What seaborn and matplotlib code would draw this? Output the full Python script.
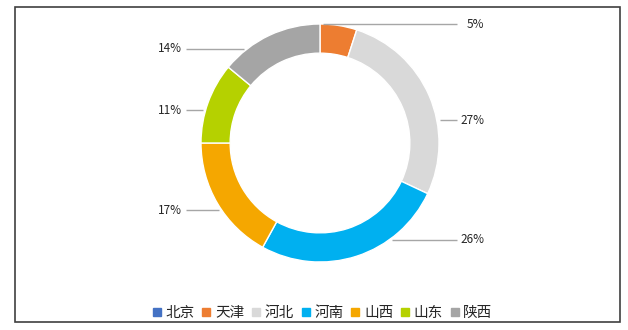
import numpy as np
import matplotlib
matplotlib.use("Agg")
import matplotlib.pyplot as plt
from matplotlib.lines import Line2D
from matplotlib.patches import Rectangle
import seaborn as sns

# Provincial shares (percent)
provinces = ["北京", "天津", "河北", "河南", "山西", "山东", "陕西"]
shares = [0, 5, 27, 26, 17, 11, 14]
colors = ["#4472C4", "#ED7D31", "#D9D9D9", "#00B0F0", "#F5A700", "#B5D100", "#A5A5A5"]

# Vertical placement (in ring radii) of each percentage label; None = not labelled
label_y = [None, 1.00, 0.193, -0.815, -0.565, 0.275, 0.79]

sns.set_theme(style="white")
plt.rcParams["font.family"] = ["Noto Sans CJK SC", "DejaVu Sans"]
palette = sns.color_palette(colors)

W, H = 628, 330
fig = plt.figure(figsize=(W / 100, H / 100), dpi=100)
ax = fig.add_axes([0, 0, 1, 1])

ax.pie(
    shares,
    colors=palette,
    startangle=90,
    counterclock=False,
    radius=1.0,
    wedgeprops=dict(width=0.245, edgecolor="white", linewidth=1.0),
)

# 1 data unit = outer ring radius (119 px); ring centred at (320, 143) px from top-left
R_px = 119.0
cx, cy = 320.0, 143.0
ax.set_aspect("auto")
ax.set_xlim(-cx / R_px, (W - cx) / R_px)
ax.set_ylim(-(H - cy) / R_px, cy / R_px)
ax.axis("off")

# Percentage labels with horizontal leader lines from the ring edge
cum = np.cumsum([0] + shares[:-1])
gap = 3 / R_px
line_end = {1: 137 / R_px, -1: 134 / R_px}   # outer end of the leader lines
text_right = {1: 164 / R_px, -1: -138 / R_px}  # right edge of label text
for share, start, ly in zip(shares, cum, label_y):
    if ly is None or share == 0:
        continue
    mid = np.deg2rad(90 - (start + share / 2) * 3.6)
    side = 1 if np.cos(mid) >= 0 else -1
    edge_x = np.sqrt(max(1 - ly ** 2, 0.0))
    x0 = side * (edge_x + gap)
    x1 = side * line_end[side]
    ax.plot([x0, x1], [ly, ly], color="#A6A6A6", lw=1.0, solid_capstyle="butt")
    ax.text(text_right[side], ly, f"{share}%", ha="right", va="center",
            fontsize=8.5, color="#262626")

# Legend
handles = [Line2D([0], [0], marker="s", linestyle="", markersize=5.5,
                  markerfacecolor=c, markeredgecolor=c) for c in palette]
fig.legend(handles, provinces, loc="center", ncol=len(provinces),
           bbox_to_anchor=(322 / W, 17 / H), frameon=False, fontsize=10.5,
           handlelength=0.7, handletextpad=0.25, columnspacing=0.45,
           labelcolor="#262626")

# Chart frame
fig.patches.append(Rectangle((15 / W, 8 / H), 605 / W, 315 / H,
                             transform=fig.transFigure, fill=False,
                             edgecolor="#404040", linewidth=1.2))

fig.savefig("out.png", dpi=100, facecolor="white")
